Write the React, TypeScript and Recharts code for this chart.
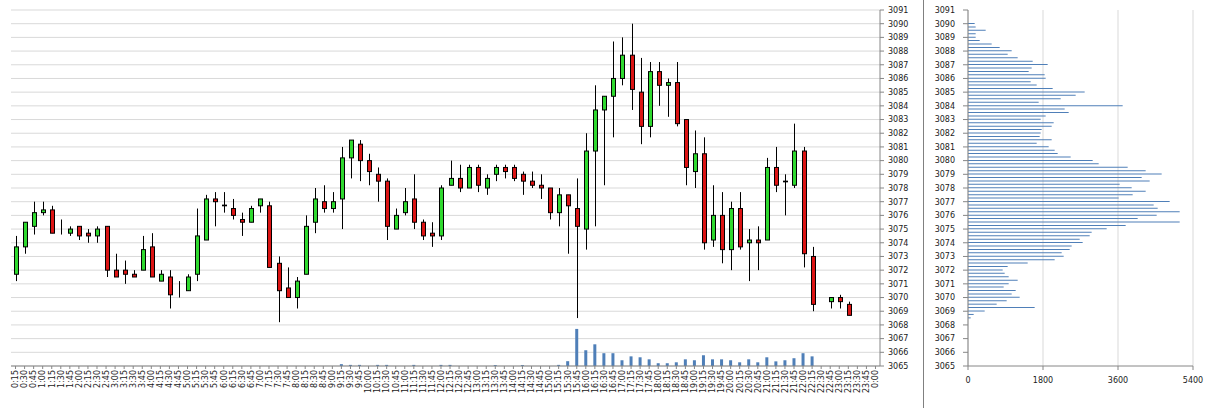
import React from 'react'
import { ComposedChart, Bar, XAxis, YAxis, CartesianGrid } from 'recharts'

const FONT = 'DejaVu Sans, sans-serif'
const AXIS = '#868686'
const GRID = '#d9d9d9'
const GREEN = '#2fd92f'
const RED = '#dc1414'
const BLUE = '#4f7fb8'

const times = [
  '0:15', '0:30', '0:45', '1:00', '1:15', '1:30', '1:45', '2:00',
  '2:15', '2:30', '2:45', '3:00', '3:15', '3:30', '3:45', '4:00',
  '4:15', '4:30', '4:45', '5:00', '5:15', '5:30', '5:45', '6:00',
  '6:15', '6:30', '6:45', '7:00', '7:15', '7:30', '7:45', '8:00',
  '8:15', '8:30', '8:45', '9:00', '9:15', '9:30', '9:45', '10:00',
  '10:15', '10:30', '10:45', '11:00', '11:15', '11:30', '11:45', '12:00',
  '12:15', '12:30', '12:45', '13:00', '13:15', '13:30', '13:45', '14:00',
  '14:15', '14:30', '14:45', '15:00', '15:15', '15:30', '15:45', '16:00',
  '16:15', '16:30', '16:45', '17:00', '17:15', '17:30', '17:45', '18:00',
  '18:15', '18:30', '18:45', '19:00', '19:15', '19:30', '19:45', '20:00',
  '20:15', '20:30', '20:45', '21:00', '21:15', '21:30', '21:45', '22:00',
  '22:15', '22:30', '22:45', '23:00', '23:15', '23:30', '23:45', '0:00',
]

const opens = [
  3071.7, 3073.7, 3075.2, 3076.2, 3076.4, 3075.0, 3074.7, 3075.2,
  3074.7, 3074.5, 3075.2, 3072.0, 3072.0, 3071.7, 3072.0, 3073.7,
  3071.2, 3071.5, 3070.5, 3070.5, 3071.7, 3074.2, 3077.2, 3076.75,
  3076.5, 3075.7, 3075.5, 3076.7, 3076.7, 3072.5, 3070.7, 3070.0,
  3071.7, 3075.5, 3077.0, 3076.5, 3077.2, 3080.2, 3081.2, 3080.0,
  3079.0, 3078.5, 3075.0, 3076.2, 3077.2, 3075.5, 3074.7, 3074.5,
  3078.2, 3078.7, 3078.0, 3079.5, 3078.0, 3079.0, 3079.5, 3079.5,
  3079.0, 3078.5, 3078.2, 3078.0, 3076.2, 3077.5, 3076.5, 3075.0,
  3080.7, 3083.7, 3084.7, 3086.0, 3087.7, 3085.0, 3082.5, 3086.5,
  3085.5, 3085.7, 3083.0, 3079.2, 3080.5, 3074.2, 3076.0, 3073.5,
  3076.5, 3074.0, 3074.2, 3074.2, 3079.5, 3078.5, 3078.2, 3080.7,
  3073.0, null, 3069.7, 3070.0, 3069.5, null, null, null,
]

const highs = [
  3074.5, 3075.5, 3077.0, 3077.0, 3076.7, 3075.7, 3075.2, 3075.2,
  3075.0, 3075.2, 3075.2, 3073.2, 3072.7, 3072.0, 3074.5, 3074.7,
  3072.0, 3072.0, 3071.2, 3071.7, 3076.5, 3077.5, 3077.7, 3077.7,
  3077.2, 3076.2, 3076.7, 3077.2, 3077.0, 3073.0, 3072.2, 3071.5,
  3076.0, 3078.0, 3078.2, 3077.7, 3081.0, 3081.5, 3081.5, 3080.5,
  3079.5, 3078.7, 3076.5, 3078.0, 3079.0, 3075.7, 3075.5, 3078.2,
  3080.0, 3079.7, 3079.7, 3079.7, 3079.0, 3079.7, 3079.7, 3079.7,
  3079.2, 3079.2, 3079.0, 3078.0, 3078.0, 3077.5, 3078.7, 3082.0,
  3085.5, 3084.7, 3088.7, 3089.0, 3090.0, 3087.5, 3087.2, 3087.2,
  3086.0, 3087.2, 3083.0, 3082.2, 3081.7, 3078.2, 3077.7, 3077.0,
  3077.7, 3075.0, 3075.2, 3080.2, 3081.0, 3079.0, 3082.7, 3081.0,
  3073.7, null, 3070.0, 3070.2, 3069.7, null, null, null,
]

const lows = [
  3071.2, 3073.2, 3074.6, 3076.0, 3074.7, 3074.6, 3074.5, 3074.2,
  3074.0, 3074.0, 3071.5, 3071.5, 3071.0, 3071.5, 3072.0, 3071.5,
  3071.2, 3069.2, 3070.0, 3070.5, 3071.2, 3074.2, 3075.2, 3076.2,
  3075.7, 3074.5, 3075.5, 3076.2, 3072.2, 3068.2, 3070.0, 3069.2,
  3071.7, 3074.7, 3076.2, 3076.2, 3075.0, 3078.7, 3078.5, 3078.2,
  3077.0, 3074.2, 3075.0, 3076.0, 3075.0, 3074.2, 3073.7, 3074.2,
  3078.2, 3077.7, 3078.0, 3077.7, 3077.5, 3078.5, 3078.7, 3078.5,
  3077.5, 3078.0, 3077.2, 3075.7, 3075.2, 3073.2, 3068.5, 3073.5,
  3075.2, 3078.2, 3081.7, 3085.5, 3083.7, 3081.2, 3081.7, 3084.0,
  3083.2, 3082.5, 3078.2, 3078.0, 3073.5, 3073.7, 3072.5, 3072.0,
  3073.5, 3071.2, 3072.0, 3074.2, 3077.7, 3076.0, 3078.0, 3072.2,
  3069.0, null, 3069.2, 3069.2, 3068.7, null, null, null,
]

const closes = [
  3073.7, 3075.5, 3076.2, 3076.4, 3074.7, 3075.0, 3075.0, 3074.5,
  3074.5, 3075.0, 3072.0, 3071.5, 3071.7, 3071.5, 3073.5, 3071.5,
  3071.7, 3070.2, 3070.5, 3071.5, 3074.5, 3077.2, 3077.0, 3076.7,
  3076.0, 3075.5, 3076.5, 3077.2, 3072.2, 3070.5, 3070.0, 3071.2,
  3075.2, 3077.2, 3076.5, 3077.0, 3080.2, 3081.5, 3080.0, 3079.2,
  3078.5, 3075.2, 3076.0, 3077.0, 3075.5, 3074.5, 3074.5, 3078.0,
  3078.7, 3078.0, 3079.5, 3078.2, 3078.7, 3079.5, 3079.2, 3078.7,
  3078.5, 3078.2, 3078.0, 3076.2, 3077.5, 3076.7, 3075.2, 3080.7,
  3083.7, 3084.7, 3086.0, 3087.7, 3085.2, 3082.5, 3086.5, 3085.5,
  3085.7, 3082.7, 3079.5, 3080.5, 3074.0, 3076.0, 3073.5, 3076.5,
  3073.7, 3074.2, 3074.0, 3079.5, 3078.2, 3078.45, 3080.7, 3073.2,
  3069.5, null, 3070.0, 3069.7, 3068.7, null, null, null,
]

const volumes = [
  0, 0, 0, 0, 0, 0, 0, 0,
  0, 0, 0, 0, 0, 0, 0, 0,
  0, 0, 0, 0, 0, 0, 0, 0,
  0, 0, 0, 0, 0, 0, 0, 0,
  0, 0, 0, 0, 50, 30, 30, 0,
  30, 30, 0, 0, 30, 0, 0, 30,
  30, 0, 0, 0, 0, 25, 0, 0,
  25, 0, 0, 0, 30, 130, 1000, 425,
  585, 345, 345, 155, 260, 235, 180, 75,
  75, 100, 180, 155, 290, 180, 180, 155,
  100, 180, 100, 235, 125, 155, 210, 345,
  260, 0, 0, 0, 0, 0, 0, 0,
]

const priceTicks = [
  3065, 3066, 3067, 3068, 3069, 3070, 3071, 3072, 3073, 3074, 3075, 3076, 3077, 3078,
  3079, 3080, 3081, 3082, 3083, 3084, 3085, 3086, 3087, 3088, 3089, 3090, 3091,
]

const profilePrices = [
  3090.0, 3089.75, 3089.5, 3089.25, 3089.0, 3088.75, 3088.5, 3088.25,
  3088.0, 3087.75, 3087.5, 3087.25, 3087.0, 3086.75, 3086.5, 3086.25,
  3086.0, 3085.75, 3085.5, 3085.25, 3085.0, 3084.75, 3084.5, 3084.25,
  3084.0, 3083.75, 3083.5, 3083.25, 3083.0, 3082.75, 3082.5, 3082.25,
  3082.0, 3081.75, 3081.5, 3081.25, 3081.0, 3080.75, 3080.5, 3080.25,
  3080.0, 3079.75, 3079.5, 3079.25, 3079.0, 3078.75, 3078.5, 3078.25,
  3078.0, 3077.75, 3077.5, 3077.25, 3077.0, 3076.75, 3076.5, 3076.25,
  3076.0, 3075.75, 3075.5, 3075.25, 3075.0, 3074.75, 3074.5, 3074.25,
  3074.0, 3073.75, 3073.5, 3073.25, 3073.0, 3072.75, 3072.5, 3072.25,
  3072.0, 3071.75, 3071.5, 3071.25, 3071.0, 3070.75, 3070.5, 3070.25,
  3070.0, 3069.75, 3069.5, 3069.25, 3069.0, 3068.75, 3068.5,
]

const profileVolumes = [
  160, 184, 424, 184, 184, 280, 568, 760,
  1048, 952, 1192, 1552, 1912, 1528, 1456, 1840,
  1864, 1504, 1648, 2032, 2800, 2584, 2224, 1696,
  3712, 2320, 2416, 1864, 1744, 2056, 2008, 1768,
  1744, 1720, 2008, 1648, 1936, 2080, 2152, 2464,
  2992, 3136, 3832, 4264, 4648, 4168, 4360, 3640,
  3928, 4264, 3952, 3616, 4840, 4456, 4552, 5080,
  4528, 4072, 5080, 3784, 3328, 2968, 2920, 2680,
  2752, 2488, 2440, 2248, 2296, 2080, 1432, 952,
  832, 880, 976, 1192, 976, 856, 1144, 1048,
  1240, 928, 688, 1600, 400, 136, 64,
]

const profileTicks = [0, 1800, 3600, 5400]

const candleData = times.map((t, i) => ({
  time: t,
  open: opens[i],
  high: highs[i],
  low: lows[i],
  close: closes[i],
  volume: volumes[i],
}))

const profileData = profilePrices.map((p, i) => ({ price: p, volume: profileVolumes[i] }))

const tickStyle = { fontSize: 8, fontFamily: FONT, fill: '#1a1a1a' }

function Candle(props: any) {
  const { x, y, width, height, payload } = props
  if (!payload || payload.open == null || !isFinite(y) || !isFinite(height)) return null
  const { open, high, low, close } = payload
  const k = height / (high - low)
  const py = (v: number) => y + (high - v) * k
  const cx = Math.round(x + width / 2) + 0.5
  const top = py(Math.max(open, close))
  const bot = py(Math.min(open, close))
  return (
    <g>
      <line x1={cx} x2={cx} y1={y} y2={y + height} stroke="#000" strokeWidth={1} />
      {open !== close && (
        <rect
          x={cx - 2}
          y={top}
          width={4}
          height={Math.max(bot - top, 0.5)}
          fill={close > open ? GREEN : RED}
          stroke="#000"
          strokeWidth={1}
        />
      )}
    </g>
  )
}

function TimeTick({ x, y, payload }: any) {
  return (
    <g transform={`translate(${x},${y})`}>
      <text transform="rotate(-90)" textAnchor="end" dy="0.35em" {...tickStyle}>
        {payload.value}
      </text>
    </g>
  )
}

export default function App() {
  return (
    <div style={{ position: 'absolute', left: 0, top: 0, width: 1211, height: 408, background: '#fff' }}>
      <div style={{ position: 'absolute', left: 0, top: 0 }}>
        <ComposedChart
          width={920}
          height={408}
          data={candleData}
          margin={{ top: 10, right: 5, bottom: 0, left: 11 }}
          barCategoryGap={0}
        >
          <CartesianGrid yAxisId="price" xAxisId="main" vertical={false} stroke={GRID} />
          <XAxis
            xAxisId="main"
            dataKey="time"
            interval={0}
            height={42}
            tick={<TimeTick />}
            tickSize={3}
            tickMargin={1}
            axisLine={{ stroke: AXIS }}
            tickLine={{ stroke: AXIS }}
          />
          <XAxis xAxisId="vol" dataKey="time" hide />
          <YAxis
            yAxisId="price"
            orientation="right"
            domain={[3065, 3091]}
            ticks={priceTicks}
            interval={0}
            allowDataOverflow
            width={35}
            tickSize={4}
            tickMargin={4}
            tick={tickStyle}
            axisLine={{ stroke: AXIS }}
            tickLine={{ stroke: AXIS }}
          />
          <YAxis
            yAxisId="vol"
            orientation="left"
            domain={[0, 9600]}
            width={0}
            tick={false}
            tickLine={false}
            axisLine={{ stroke: AXIS }}
          />
          <Bar
            xAxisId="vol"
            yAxisId="vol"
            dataKey="volume"
            fill={BLUE}
            barSize={3}
            isAnimationActive={false}
          />
          <Bar
            xAxisId="main"
            yAxisId="price"
            dataKey={(d: any) => (d.low == null ? null : [d.low, d.high])}
            barSize={6}
            shape={(p: any) => <Candle {...p} />}
            isAnimationActive={false}
          />
        </ComposedChart>
      </div>
      <div style={{ position: 'absolute', left: 923, top: 0, width: 1, height: 408, background: '#808080' }} />
      <div style={{ position: 'absolute', left: 924, top: 0 }}>
        <ComposedChart
          layout="vertical"
          width={287}
          height={408}
          data={profileData}
          margin={{ top: 10, right: 18, bottom: 0, left: 0 }}
        >
          <CartesianGrid horizontal={false} stroke={GRID} />
          <XAxis
            type="number"
            domain={[0, 5400]}
            ticks={profileTicks}
            interval={0}
            height={42}
            tickSize={4}
            tickMargin={7}
            tick={tickStyle}
            axisLine={{ stroke: AXIS }}
            tickLine={{ stroke: AXIS }}
          />
          <YAxis
            type="number"
            dataKey="price"
            domain={[3065, 3091]}
            ticks={priceTicks}
            interval={0}
            reversed
            allowDataOverflow
            width={44}
            tickSize={5}
            tickMargin={8}
            tick={tickStyle}
            axisLine={{ stroke: AXIS }}
            tickLine={{ stroke: AXIS }}
          />
          <Bar dataKey="volume" fill={BLUE} barSize={1} isAnimationActive={false} />
        </ComposedChart>
      </div>
    </div>
  )
}
